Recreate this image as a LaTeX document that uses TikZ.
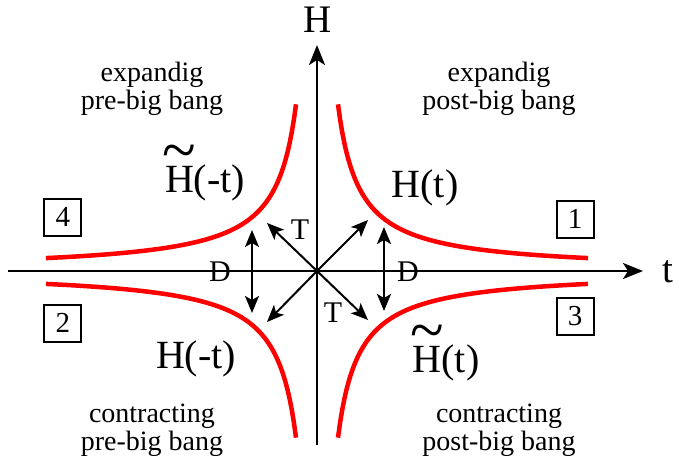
\documentclass[tikz,border=0pt]{standalone}
\usepackage{fontspec}
\usepackage{graphicx}
\setmainfont{Liberation Serif}
\usetikzlibrary{arrows.meta}
\newcommand\tildeH{\leavevmode\rlap{\makebox[\fontcharwd\font`H][c]{\raisebox{21pt}{\scalebox{1.55}[1.6]{\textasciitilde}}}}H}
\begin{document}
\begin{tikzpicture}[x=1pt,y=1pt,
  axis/.style={line width=2pt,-{Stealth[length=20pt,width=16pt,inset=5pt]}},
  branch/.style={line width=4.5pt,draw={rgb,255:red,255;green,0;blue,0}},
  dbl/.style={line width=2pt,{Stealth[length=17pt,width=14pt,inset=4pt]}-{Stealth[length=17pt,width=14pt,inset=4pt]}},
  sgl/.style={line width=2pt,-{Stealth[length=17pt,width=14pt,inset=4pt]}},
  region/.style={font=\fontsize{28}{28}\selectfont,align=center,anchor=base},
  hlab/.style={font=\fontsize{40}{40}\selectfont,anchor=base,inner sep=0pt},
  axlab/.style={font=\fontsize{39}{39}\selectfont,anchor=base,inner sep=0pt},
  small/.style={font=\fontsize{30}{30}\selectfont,anchor=base,inner sep=0pt},
  numbox/.style={draw,line width=2pt,font=\fontsize{29}{29}\selectfont,minimum width=37pt,minimum height=37pt,inner sep=0pt}]
\useasboundingbox (-317,-192) rectangle (357,271);
% axes
\coordinate (O) at (0,0);
\coordinate (xl) at (-309,0);
\coordinate (xr) at (326,0);
\coordinate (yb) at (0,-174);
\coordinate (yt) at (0,226);
\draw[axis] (xl) -- (xr);
\draw[axis] (yb) -- (yt);
\node[axlab] (tlab) at (351,-11) {t};
\node[axlab] (Hlab) at (1,238) {H};
% hyperbolas
\draw[branch] plot[domain=21:271,samples=120] (\x,{3500/\x});
\draw[branch] plot[domain=21:271,samples=120] (-\x,{3500/\x});
\draw[branch] plot[domain=21:271,samples=120] (\x,{-3500/\x});
\draw[branch] plot[domain=21:271,samples=120] (-\x,{-3500/\x});
% arrows
\coordinate (TUL) at (-50,48);
\coordinate (TUR) at (51,51);
\coordinate (TLL) at (-50,-51);
\coordinate (TLR) at (51,-49);
\draw[sgl] (O) -- (TUL);
\draw[sgl] (O) -- (TUR);
\draw[sgl] (O) -- (TLL);
\draw[sgl] (O) -- (TLR);
\coordinate (DLt) at (-65,41);
\coordinate (DLb) at (-65,-42);
\coordinate (DRt) at (67,44);
\coordinate (DRb) at (67,-40);
\draw[dbl] (DLb) -- (DLt);
\draw[dbl] (DRb) -- (DRt);
\node[small] (T1) at (-17,32) {T};
\node[small] (T2) at (16,-51) {T};
\node[small] (D1) at (-97,-10) {D};
\node[small] (D2) at (91,-10) {D};
% labels
\node[hlab] (Ht) at (108,74) {H(t)};
\node[hlab] (Hmt) at (-121,-97) {H(-t)};
\node[hlab] (tHmt) at (-112,78) {\tildeH(-t)};
\node[hlab] (tHt) at (129,-101) {\tildeH(t)};
% boxes
\node[numbox] (b4) at (-254,54) {4};
\node[numbox] (b2) at (-254,-52) {2};
\node[numbox] (b1) at (258,52) {1};
\node[numbox] (b3) at (258,-45) {3};
% region texts
\node[region] (r1) at (-165,161) {expandig\\pre-big bang};
\node[region] (r2) at (182,161) {expandig\\post-big bang};
\node[region] (r3) at (-165,-179) {contracting\\pre-big bang};
\node[region] (r4) at (182,-179) {contracting\\post-big bang};
\end{tikzpicture}
\end{document}
